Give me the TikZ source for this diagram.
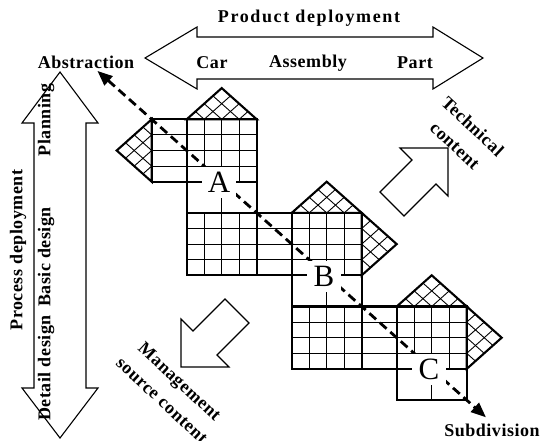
\documentclass[tikz,border=0pt]{standalone}
\usepackage{fontspec}
\setmainfont{Liberation Serif}
\newfontfamily\widefont{Liberation Serif}[LetterSpace=3]
\newfontfamily\widerfont{Liberation Serif}[LetterSpace=9]
\usetikzlibrary{arrows.meta}

\tikzset{
  thin grid/.style={line width=1.1pt},
  thick edge/.style={line width=2.1pt, line join=miter},
  hatch line/.style={line width=0.9pt},
  block arrow/.style={draw, line width=1.1pt, line join=miter},
  lbl/.style={font=\widefont\fontsize{18}{24}\selectfont\bfseries, inner sep=0pt},
  slanted lbl/.style={lbl, rotate=-43, align=center,
                      font=\widefont\fontsize{18}{26}\selectfont\bfseries},
  tag/.style={font=\fontsize{31}{31}\selectfont, fill=white, inner sep=0pt,
              minimum width=34pt, minimum height=31pt},
  diag/.style={line width=2.8pt, dash pattern=on 9pt off 5pt,
               {Triangle[length=15pt,width=12pt]}-{Triangle[length=15pt,width=12pt]}},
}

% upper block: 4x4 fine cells over one row of two wide cells (top-left at #1,#2)
\newcommand\upperblock[2]{%
  \draw[thin grid] \foreach \i in {1,2,3} {(#1+\i,#2) -- (#1+\i,#2+4)}
                   \foreach \j in {1,2,3} {(#1,#2+\j) -- (#1+4,#2+\j)}
                   (#1+2,#2+4) -- (#1+2,#2+6);
  \draw[thick edge] (#1,#2+4) -- (#1+4,#2+4);
  \draw[thick edge] (#1,#2) rectangle (#1+4,#2+6);
}
% full 4x4 block
\newcommand\fullblock[2]{%
  \draw[thin grid] \foreach \i in {1,2,3} {(#1+\i,#2) -- (#1+\i,#2+4)}
                   \foreach \j in {1,2,3} {(#1,#2+\j) -- (#1+4,#2+\j)};
  \draw[thick edge] (#1,#2) rectangle (#1+4,#2+4);
}
% side strip: 2 wide, 4 rows
\newcommand\sidestrip[2]{%
  \draw[thin grid] \foreach \j in {1,2,3} {(#1,#2+\j) -- (#1+2,#2+\j)};
  \draw[thick edge] (#1,#2) rectangle (#1+2,#2+4);
}
% cross-hatched triangle with apex (#1,#2), corners #3 and #4
\newcommand\hatchtri[4]{%
  \begin{scope}
    \clip (#1,#2) -- #3 -- #4 -- cycle;
    \foreach \k in {-6,...,6} {
      \draw[hatch line] (#1+\k-5,#2-5) -- (#1+\k+5,#2+5);
      \draw[hatch line] (#1+\k-5,#2+5) -- (#1+\k+5,#2-5);
    }
  \end{scope}
  \draw[thick edge] (#1,#2) -- #3 -- #4 -- cycle;
}

\begin{document}
\begin{tikzpicture}[x=1pt,y=-1pt]
\useasboundingbox (0,0) rectangle (543,441);

% product axis (horizontal double arrow)
\draw[block arrow] (145,58) -- (197,27) -- (197,37) -- (433,37) -- (433,27)
  -- (483,58) -- (433,89) -- (433,79) -- (197,79) -- (197,89) -- cycle;
% process axis (vertical double arrow)
\draw[block arrow] (60,72) -- (98,123) -- (86,123) -- (86,388) -- (98,388)
  -- (60,438) -- (22,388) -- (34,388) -- (34,123) -- (22,123) -- cycle;

% technical content arrow (pointing up-right)
\draw[block arrow] (448,148) -- (448,196) -- (436,184) -- (404,216)
  -- (380,192) -- (412,160) -- (400,148) -- cycle;
% management source content arrow (pointing down-left)
\draw[block arrow] (181,367) -- (181,319) -- (193,331) -- (225,299)
  -- (249,323) -- (217,355) -- (229,367) -- cycle;

% matrix blocks in cell units
\begin{scope}[shift={(186.7,119.3)}, x=17.5pt, y=-15.6pt]
  % block A
  \sidestrip{-2}{0}
  \upperblock{0}{0}
  \fullblock{0}{6}
  \hatchtri{-4}{2}{(-2,0)}{(-2,4)}
  \hatchtri{2}{-2}{(0,0)}{(4,0)}
  % block B
  \sidestrip{4}{6}
  \upperblock{6}{6}
  \fullblock{6}{12}
  \hatchtri{8}{4}{(6,6)}{(10,6)}
  \hatchtri{12}{8}{(10,6)}{(10,10)}
  % block C
  \sidestrip{10}{12}
  \upperblock{12}{12}
  \hatchtri{14}{10}{(12,12)}{(16,12)}
  \hatchtri{18}{14}{(16,12)}{(16,16)}

  \coordinate (abstip) at (-5.1,-3.1);
  \coordinate (subtip) at (17.1,19.1);
  \draw[diag] (abstip) -- (subtip);

  \node[tag] (tagA) at (1.85,4.05) {A};
  \node[tag] (tagB) at (7.85,10.05) {B};
  \node[tag] (tagC) at (13.85,16.05) {C};
\end{scope}

% labels
\node[lbl, font=\widerfont\fontsize{18}{24}\selectfont\bfseries] (prod) at (309,18) {Product deployment};
\node[lbl] (abs) at (86,62) {Abstraction};
\node[lbl] (car) at (212,63) {Car};
\node[lbl] (asm) at (308,63) {Assembly};
\node[lbl] (part) at (415,63) {Part};
\node[lbl, rotate=90] (proc) at (18,250) {Process deployment};
\node[lbl, rotate=90] (plan) at (46,120) {Planning};
\node[lbl, rotate=90] (basic) at (46,257) {Basic design};
\node[lbl, rotate=90] (detail) at (46,368) {Detail design};
\node[slanted lbl] (tech) at (464,136) {Technical\\content};
\node[slanted lbl] (mgmt) at (171,391) {Management\\source content};
\node[lbl] (sub) at (492,430) {Subdivision};
\end{tikzpicture}
\end{document}
